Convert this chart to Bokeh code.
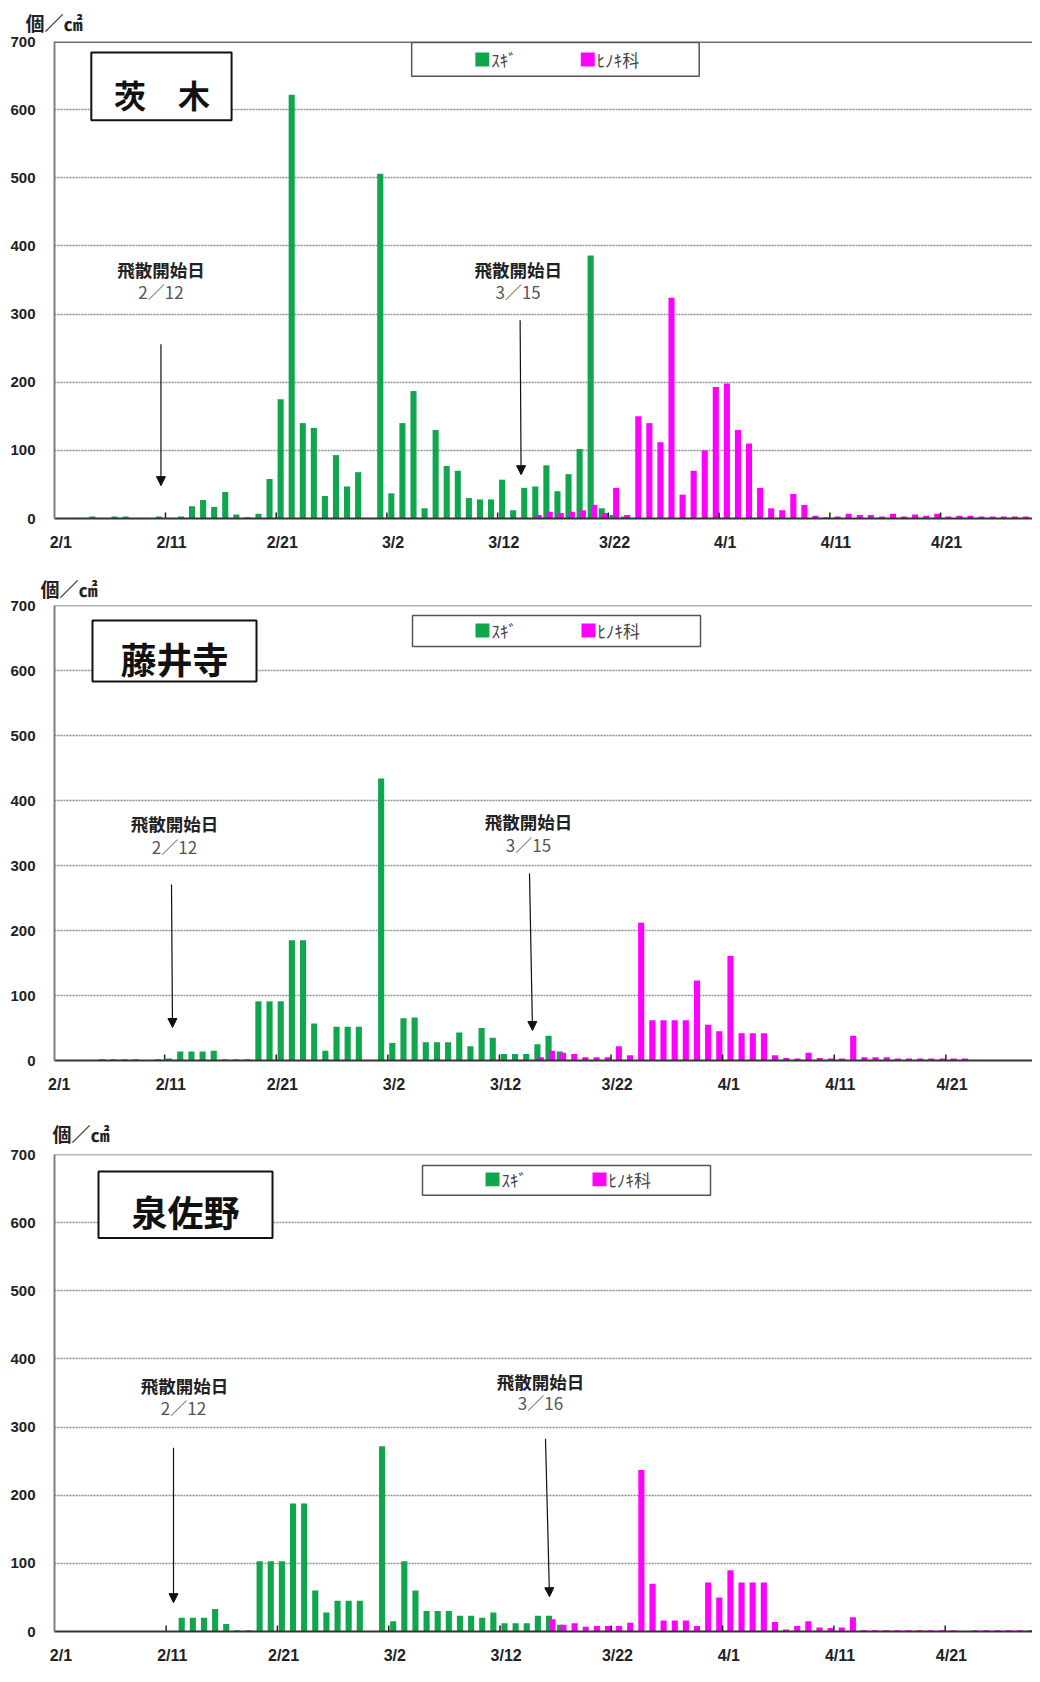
import numpy as np
from bokeh.plotting import figure
from bokeh.layouts import column
from bokeh.models import FixedTicker, Label, Arrow, NormalHead, BoxAnnotation, Span, Range1d, Title
from bokeh.embed import file_html
from bokeh.resources import INLINE

# ---------------- data ----------------
# day index 0 = 2/1 ... 89 = 4/30 (leap year)
tick_idx = [0, 10, 20, 30, 40, 50, 60, 70, 80]
tick_labels = ["2/1", "2/11", "2/21", "3/2", "3/12", "3/22", "4/1", "4/11", "4/21"]
y_ticks = [0, 100, 200, 300, 400, 500, 600, 700]
series_names = ["ｽｷﾞ", "ﾋﾉｷ科"]

ibaraki_sugi = [
    0, 0, 0, 3, 0, 3, 3, 0, 0, 3,
    0, 3, 18, 27, 17, 39, 6, 2, 7, 58,
    175, 622, 140, 133, 33, 93, 47, 68, 0, 506,
    37, 140, 187, 15, 130, 77, 70, 30, 28, 28,
    57, 12, 45, 47, 78, 40, 65, 102, 386, 15,
    5, 3, 0, 0, 0, 0, 0, 0, 0, 0,
    0, 0, 0, 0, 0, 0, 0, 0, 0, 0,
    0, 0, 0, 0, 0, 0, 0, 0, 0, 0,
    0, 0, 0, 0, 0, 0, 0, 0, 0, 0,
]
ibaraki_hinoki = [
    0, 0, 0, 0, 0, 0, 0, 0, 0, 0,
    0, 0, 0, 0, 0, 0, 0, 0, 0, 0,
    0, 0, 0, 0, 0, 0, 0, 0, 0, 0,
    0, 0, 0, 0, 0, 0, 0, 0, 0, 0,
    0, 0, 0, 5, 10, 8, 10, 12, 20, 8,
    45, 5, 150, 140, 112, 324, 35, 70, 100, 193,
    198, 130, 110, 45, 15, 12, 36, 20, 4, 2,
    3, 7, 5, 5, 3, 7, 3, 6, 4, 7,
    3, 4, 4, 3, 3, 3, 3, 3, 3, 3,
]
fujiidera_sugi = [
    0, 0, 0, 0, 2, 2, 2, 2, 0, 2,
    3, 14, 14, 14, 15, 2, 2, 2, 91, 91,
    91, 185, 185, 57, 15, 52, 52, 52, 0, 434,
    27, 65, 66, 28, 28, 28, 43, 22, 50, 35,
    10, 10, 10, 25, 38, 14, 0, 0, 0, 0,
    0, 0, 0, 0, 0, 0, 0, 0, 0, 0,
    0, 0, 0, 0, 0, 0, 0, 0, 0, 0,
    0, 0, 0, 0, 0, 0, 0, 0, 0, 0,
    0, 0, 0, 0, 0, 0, 0, 0, 0, 0,
]
fujiidera_hinoki = [
    0, 0, 0, 0, 0, 0, 0, 0, 0, 0,
    0, 0, 0, 0, 0, 0, 0, 0, 0, 0,
    0, 0, 0, 0, 0, 0, 0, 0, 0, 0,
    0, 0, 0, 0, 0, 0, 0, 0, 0, 0,
    0, 0, 0, 5, 15, 12, 10, 5, 5, 5,
    22, 8, 212, 62, 62, 62, 62, 123, 55, 45,
    161, 42, 42, 42, 8, 4, 3, 12, 4, 3,
    3, 38, 5, 5, 5, 3, 3, 3, 3, 3,
    3, 3, 0, 0, 0, 0, 0, 0, 0, 0,
]
izumisano_sugi = [
    0, 0, 0, 0, 0, 0, 0, 0, 0, 0,
    0, 20, 20, 20, 33, 11, 2, 2, 103, 103,
    103, 188, 188, 60, 28, 45, 45, 45, 0, 272,
    15, 103, 60, 30, 30, 30, 23, 23, 20, 28,
    12, 12, 12, 23, 23, 10, 0, 0, 0, 0,
    0, 0, 0, 0, 0, 0, 0, 0, 0, 0,
    0, 0, 0, 0, 0, 0, 0, 0, 0, 0,
    0, 0, 0, 0, 0, 0, 0, 0, 0, 0,
    0, 0, 0, 0, 0, 0, 0, 0, 0, 0,
]
izumisano_hinoki = [
    0, 0, 0, 0, 0, 0, 0, 0, 0, 0,
    0, 0, 0, 0, 0, 0, 0, 0, 0, 0,
    0, 0, 0, 0, 0, 0, 0, 0, 0, 0,
    0, 0, 0, 0, 0, 0, 0, 0, 0, 0,
    0, 0, 0, 0, 18, 10, 12, 7, 8, 8,
    8, 13, 237, 70, 16, 16, 16, 8, 72, 50,
    90, 72, 72, 72, 14, 3, 8, 15, 6, 5,
    6, 21, 2, 2, 2, 2, 2, 2, 2, 2,
    2, 0, 2, 2, 2, 2, 2, 2, 2, 2,
]

station_names = ["茨　木", "藤井寺", "泉佐野"]
start_labels = [("2／12", "3／15"), ("2／12", "3／15"), ("2／12", "3／16")]
unit_text = "個／㎠"

# ---------------- styling / layout ----------------
GREEN = "#10a64e"
PINK = "#ff00ff"
JP = "Noto Sans CJK JP"
NUM = "Liberation Sans"

panels = [
    dict(fig_top=8, left=57, ftop=47, zero=526, bottom=47, x0=-0.57, ppd=11.13, top_w=3,
         unit=(28, 12),
         box=(94, 58, 235, 126), title_c=(165, 100), title_size="32px",
         legend=(416, 48, 705, 82), sw1=(487, 65), sw2=(593, 65),
         ann=[((164, 276), (164, 298), (164, 351), (164, 493)),
              ((523, 276), (523, 298), (525, 327), (526, 482))]),
    dict(fig_top=573, left=62, ftop=613, zero=1068, bottom=44, x0=-0.42, ppd=11.16, top_w=1.5,
         unit=(48, 8),
         box=(100, 628, 264, 689), title_c=(182, 665), title_size="36px",
         legend=(420, 623, 708, 654), sw1=(490, 638), sw2=(596, 638),
         ann=[((182, 831), (182, 854), (179, 892), (180, 1035)),
              ((536, 829), (536, 852), (537, 881), (540, 1038))]),
    dict(fig_top=1112, left=62, ftop=1162, zero=1642, bottom=32, x0=-0.58, ppd=11.13, top_w=1.5,
         unit=(60, 15),
         box=(106, 1179, 280, 1246), title_c=(193, 1219), title_size="36px",
         legend=(430, 1173, 718, 1203), sw1=(500, 1187), sw2=(607, 1187),
         ann=[((192, 1394), (191, 1417), (181, 1457), (181, 1613)),
              ((548, 1390), (548, 1412), (553, 1448), (557, 1607))]),
]

data = [(ibaraki_sugi, ibaraki_hinoki), (fujiidera_sugi, fujiidera_hinoki),
        (izumisano_sugi, izumisano_hinoki)]

figs = []
for k, P in enumerate(panels):
    sugi, hinoki = data[k]
    left, ftop, zero = P["left"], P["ftop"], P["zero"]
    frame_h = zero - ftop
    ypp = frame_h / 700.0
    x0, ppd = P["x0"], P["ppd"]
    x1 = x0 + (1040 - left) / ppd

    def X(px):
        return x0 + (px - left) / ppd

    def Y(py):
        return (zero - py) / ypp

    height = (ftop - P["fig_top"]) + frame_h + P["bottom"]
    ux, ustand = P["unit"]
    p = figure(width=1032, height=height, output_backend="svg", toolbar_location=None,
               x_range=Range1d(x0, x1), y_range=Range1d(0, 700),
               min_border_left=left - 8, min_border_right=0,
               min_border_top=ftop - P["fig_top"], min_border_bottom=P["bottom"],
               title=Title(text=unit_text, align="left", offset=ux - left,
                           standoff=ustand, text_font=JP, text_font_style="bold",
                           text_font_size="19px", text_color="#222222"))
    p.outline_line_color = None
    p.background_fill_color = "white"
    p.border_fill_color = "white"

    days = np.arange(len(sugi))
    p.vbar(x=days - 0.15, top=sugi, width=0.55, fill_color=GREEN, line_color=None)
    p.vbar(x=days + 0.15, top=hinoki, width=0.55, fill_color=PINK, line_color=None)

    # axes
    p.xaxis.ticker = FixedTicker(ticks=tick_idx)
    p.xaxis.major_label_overrides = {t: lab for t, lab in zip(tick_idx, tick_labels)}
    p.xaxis.axis_line_color = "#333333"
    p.xaxis.axis_line_width = 2
    p.xaxis.major_tick_out = 0
    p.xaxis.major_tick_in = 0
    p.xaxis.minor_tick_line_color = None
    p.xaxis.major_label_standoff = 15
    p.xaxis.major_label_text_font = NUM
    p.xaxis.major_label_text_font_style = "bold"
    p.xaxis.major_label_text_font_size = "16px"
    p.xaxis.major_label_text_color = "#222222"

    p.yaxis.ticker = FixedTicker(ticks=y_ticks)
    p.yaxis.axis_line_color = "#808080"
    p.yaxis.axis_line_width = 2
    p.yaxis.major_tick_out = 0
    p.yaxis.major_tick_in = 0
    p.yaxis.minor_tick_line_color = None
    p.yaxis.major_label_standoff = 19
    p.yaxis.major_label_text_font = NUM
    p.yaxis.major_label_text_font_style = "bold"
    p.yaxis.major_label_text_font_size = "15px"
    p.yaxis.major_label_text_color = "#222222"

    p.xgrid.visible = False
    p.ygrid.grid_line_color = "#8f8f8f"
    p.ygrid.grid_line_width = 1.3
    p.ygrid.grid_line_dash = "2 1"

    p.add_layout(Span(location=700, dimension="width", line_color="#6f6f6f",
                      line_width=P["top_w"]))

    # small category tick marks
    tk = [t - 0.55 for t in tick_idx[1:]]
    p.segment(x0=tk, y0=[0] * len(tk), x1=tk, y1=[Y(zero - 6)] * len(tk),
              line_color="#222222", line_width=1.5)

    # station box
    bx0, by0, bx1, by1 = P["box"]
    p.add_layout(BoxAnnotation(left=X(bx0), right=X(bx1), top=Y(by0), bottom=Y(by1),
                               fill_color="white", fill_alpha=1.0,
                               line_color="#111111", line_width=2, line_alpha=1.0))
    tx, ty = P["title_c"]
    p.add_layout(Label(x=X(tx), y=Y(ty), text=station_names[k], text_font=JP,
                       text_font_style="bold", text_font_size=P["title_size"],
                       text_align="center", text_baseline="middle", text_color="#111111"))

    # legend
    lx0, ly0, lx1, ly1 = P["legend"]
    p.add_layout(BoxAnnotation(left=X(lx0), right=X(lx1), top=Y(ly0), bottom=Y(ly1),
                               fill_color="white", fill_alpha=1.0,
                               line_color="#555555", line_width=1.5, line_alpha=1.0))
    for (sx, sy), col, nm in ((P["sw1"], GREEN, series_names[0]),
                              (P["sw2"], PINK, series_names[1])):
        p.add_layout(BoxAnnotation(left=X(sx - 7), right=X(sx + 7), top=Y(sy - 7),
                                   bottom=Y(sy + 7), fill_color=col, fill_alpha=1.0,
                                   line_color=None))
        p.add_layout(Label(x=X(sx + 9), y=Y(sy), text=nm, text_font=JP,
                           text_font_size="17px", text_align="left",
                           text_baseline="middle", text_color="#444444"))

    # start-of-season annotations
    for j, (t1, t2, a0, a1) in enumerate(P["ann"]):
        p.add_layout(Label(x=X(t1[0]), y=Y(t1[1]), text="飛散開始日", text_font=JP,
                           text_font_style="bold", text_font_size="17.5px",
                           text_align="center", text_baseline="middle",
                           text_color="#222222"))
        p.add_layout(Label(x=X(t2[0]), y=Y(t2[1]), text=start_labels[k][j], text_font=JP,
                           text_font_size="17px", text_align="center",
                           text_baseline="middle", text_color="#555555"))
        p.add_layout(Arrow(end=NormalHead(size=9, fill_color="#111111",
                                          line_color="#111111"),
                           x_start=X(a0[0]), y_start=Y(a0[1]),
                           x_end=X(a1[0]), y_end=Y(a1[1]),
                           line_color="#111111", line_width=1.2))

    figs.append(p)

layout = column(*figs, spacing=0)
open("out.html", "w").write(file_html(layout, INLINE))
